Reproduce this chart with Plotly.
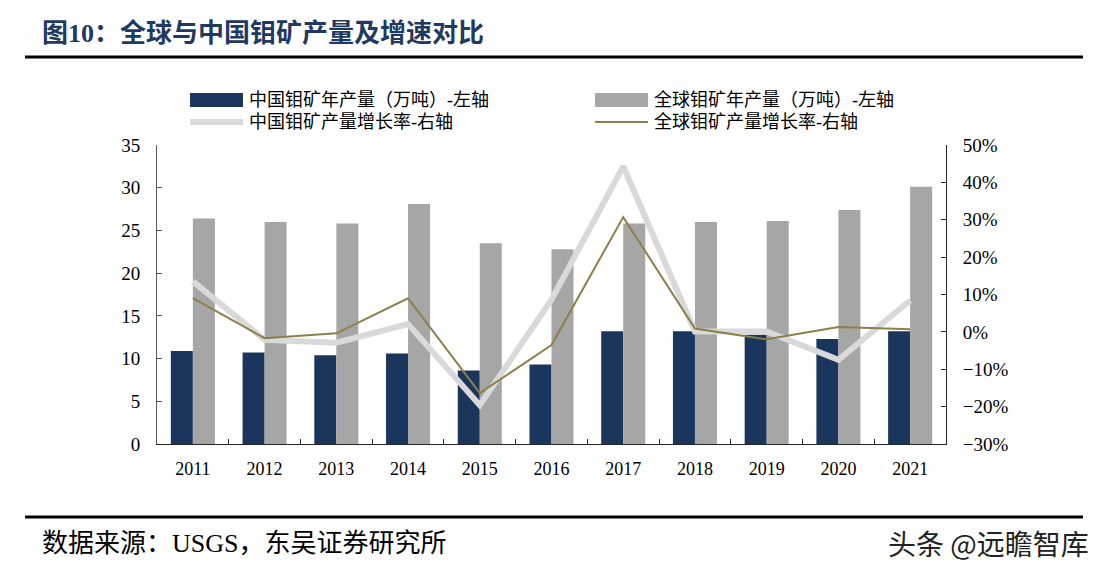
import plotly.graph_objects as go

years = ["2011", "2012", "2013", "2014", "2015", "2016", "2017", "2018", "2019", "2020", "2021"]
china_output = [10.9, 10.7, 10.4, 10.6, 8.6, 9.3, 13.2, 13.2, 12.8, 12.3, 13.2]
global_output = [26.4, 26.0, 25.8, 28.1, 23.5, 22.8, 25.8, 26.0, 26.1, 27.4, 30.1]
china_growth = [13.5, -2.1, -2.9, 2.1, -19.6, 8.6, 44.3, 0.1, 0.1, -7.5, 8.4]
global_growth = [9.0, -1.7, -0.4, 9.0, -16.4, -3.5, 30.7, 0.9, -2.0, 1.3, 0.7]

# page has an 8px body margin; work in page pixel coordinates
OFF = 8
W, H = 1105 - OFF, 578 - OFF
L, R, T, B = 157, 946, 145, 444  # page coords of plot area

def px(x):
    return (x - L) / (R - L)

def py(y):
    return (B - y) / (B - T)

SERIF = "Liberation Serif, 'Times New Roman', 'Noto Sans CJK SC', serif"
CJK = "Liberation Serif, 'Noto Sans CJK SC', serif"
NAVY = "#1A365C"
GRAY = "#A6A6A6"
LIGHT = "#D9D9D9"
OLIVE = "#8C7F4A"

fig = go.Figure()
fig.add_trace(go.Bar(x=years, y=china_output, name="中国钼矿年产量（万吨）-左轴",
                     marker=dict(color=NAVY, line=dict(width=0)), yaxis="y"))
fig.add_trace(go.Bar(x=years, y=global_output, name="全球钼矿年产量（万吨）-左轴",
                     marker=dict(color=GRAY, line=dict(width=0)), yaxis="y"))
fig.add_trace(go.Scatter(x=years, y=china_growth, name="中国钼矿产量增长率-右轴", mode="lines",
                         line=dict(color=LIGHT, width=6), yaxis="y2"))
fig.add_trace(go.Scatter(x=years, y=global_growth, name="全球钼矿产量增长率-右轴", mode="lines",
                         line=dict(color=OLIVE, width=2), yaxis="y2"))

fig.update_layout(
    width=W, height=H,
    margin=dict(l=L - OFF, r=1105 - R, t=T - OFF, b=578 - B, pad=0),
    paper_bgcolor="white", plot_bgcolor="white",
    showlegend=False,
    barmode="group", bargap=0.386, bargroupgap=0,
    font=dict(family=SERIF, size=18, color="black"),
    xaxis=dict(type="category", showline=True, linecolor="#262626", linewidth=1,
               ticks="inside", tickson="boundaries", ticklen=5, tickcolor="#262626",
               showgrid=False, tickfont=dict(size=18, family=SERIF), ticklabelstandoff=8),
    yaxis=dict(range=[0, 35], dtick=5, showline=True, linecolor="#595959", linewidth=1,
               ticks="inside", ticklen=5, tickcolor="#595959", showgrid=False, zeroline=False,
               tickfont=dict(size=19, family=SERIF), ticklabelstandoff=12),
    yaxis2=dict(range=[-30, 50], dtick=10, ticksuffix="%", overlaying="y", side="right",
                showline=True, linecolor="#262626", linewidth=1, ticks="inside", ticklen=5,
                tickcolor="#262626", showgrid=False, zeroline=False,
                tickfont=dict(size=19, family=SERIF), ticklabelstandoff=12),
)

shapes = []
annotations = []

# title and rules
annotations.append(dict(xref="paper", yref="paper", x=px(40), y=py(33), xanchor="left", yanchor="middle",
                        text="<b>图10：全球与中国钼矿产量及增速对比</b>", showarrow=False,
                        font=dict(family=CJK, size=26, color="#1F3A60")))
shapes.append(dict(type="line", xref="paper", yref="paper", x0=px(25), x1=px(1083), y0=py(57), y1=py(57),
                   line=dict(color="black", width=3)))
shapes.append(dict(type="line", xref="paper", yref="paper", x0=px(25), x1=px(1083), y0=py(517), y1=py(517),
                   line=dict(color="black", width=3)))
annotations.append(dict(xref="paper", yref="paper", x=px(40), y=py(543), xanchor="left", yanchor="middle",
                        text="数据来源：USGS，东吴证券研究所", showarrow=False,
                        font=dict(family=CJK, size=26, color="black")))
annotations.append(dict(xref="paper", yref="paper", x=px(1091), y=py(543), xanchor="right", yanchor="middle",
                        text="头条 @远瞻智库", showarrow=False,
                        font=dict(family="'Noto Sans CJK SC', sans-serif", size=28, color="#222222")))

# custom legend
names = [t.name for t in fig.data]
legend_pos = [(190, 100), (595, 100), (190, 122), (595, 122)]
for i, (lx, ly) in enumerate(legend_pos):
    if i < 2:
        shapes.append(dict(type="rect", xref="paper", yref="paper", x0=px(lx), x1=px(lx + 53),
                           y0=py(ly + 7), y1=py(ly - 7), fillcolor=[NAVY, GRAY][i], line=dict(width=0)))
    else:
        shapes.append(dict(type="line", xref="paper", yref="paper", x0=px(lx), x1=px(lx + 53),
                           y0=py(ly), y1=py(ly), line=dict(color=[LIGHT, OLIVE][i - 2], width=[6, 2][i - 2])))
    annotations.append(dict(xref="paper", yref="paper", x=px(lx + 57), y=py(ly), xanchor="left", yanchor="middle",
                            text=names[i], showarrow=False, font=dict(family=CJK, size=18, color="black")))

fig.update_layout(shapes=shapes, annotations=annotations)
fig.write_html("out.html")
